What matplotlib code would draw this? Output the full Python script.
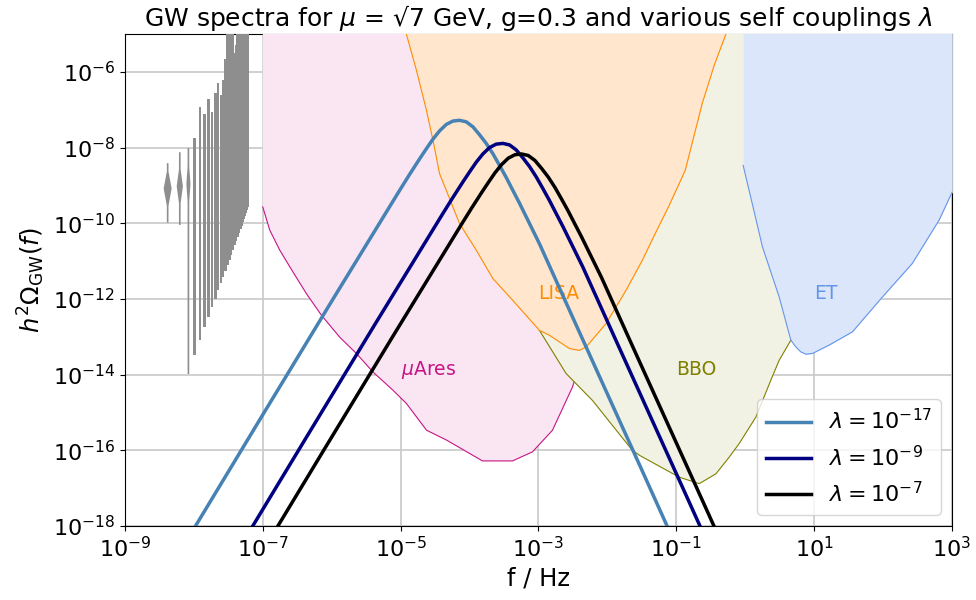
import matplotlib
matplotlib.use("Agg")
import matplotlib.pyplot as plt
import numpy as np

# GW spectra: log10 f [Hz] and log10 h^2 Omega
spec_labels = [r'$\lambda = 10^{-17}$', r'$\lambda = 10^{-9}$', r'$\lambda = 10^{-7}$']
spec_colors = ['steelblue', 'navy', 'black']

lf_l17 = [-8.2, -7.986, -7.0, -6.0, -5.3, -5.014, -4.87, -4.725, -4.628, -4.532,
          -4.435, -4.338, -4.242, -4.145, -4.048, -3.952, -3.855, -3.758, -3.662, -3.565,
          -3.468, -3.372, -3.275, -2.986, -2.5, -2.0, -1.5, -1.126, -1.0]
lo_l17 = [-18.67, -18.03, -15.06, -12.06, -9.98, -9.13, -8.71, -8.30, -8.035, -7.78,
          -7.56, -7.39, -7.30, -7.28, -7.32, -7.45, -7.66, -7.89, -8.16, -8.47,
          -8.79, -9.13, -9.47, -10.54, -12.50, -14.51, -16.52, -18.03, -18.54]

lf_l9 = [-7.572, -7.358, -6.372, -5.372, -4.672, -4.386, -4.242, -4.097, -4.0, -3.904,
         -3.807, -3.71, -3.614, -3.517, -3.42, -3.324, -3.227, -3.13, -3.034, -2.937,
         -2.84, -2.744, -2.647, -2.358, -1.872, -1.372, -0.872, -0.498, -0.372]
lo_l9 = [-19.28, -18.64, -15.67, -12.67, -10.59, -9.74, -9.32, -8.91, -8.645, -8.39,
         -8.17, -8.00, -7.91, -7.89, -7.93, -8.06, -8.27, -8.50, -8.77, -9.08,
         -9.40, -9.74, -10.08, -11.15, -13.11, -15.12, -17.13, -18.64, -19.15]

lf_l7 = [-7.3, -7.086, -6.1, -5.1, -4.4, -4.114, -3.97, -3.825, -3.728, -3.632,
         -3.535, -3.438, -3.342, -3.245, -3.148, -3.052, -2.955, -2.858, -2.762, -2.665,
         -2.568, -2.472, -2.375, -2.086, -1.6, -1.1, -0.6, -0.226, -0.1]
lo_l7 = [-19.56, -18.92, -15.95, -12.95, -10.87, -10.02, -9.60, -9.19, -8.925, -8.67,
         -8.45, -8.28, -8.19, -8.17, -8.21, -8.34, -8.55, -8.78, -9.05, -9.36,
         -9.68, -10.02, -10.36, -11.43, -13.39, -15.40, -17.41, -18.92, -19.43]

spec_lf = [lf_l17, lf_l9, lf_l7]
spec_lo = [lo_l17, lo_l9, lo_l7]

# detector sensitivity curves (log10 f, log10 h^2 Omega)
mu_lf = [-7.0, -6.899, -6.754, -6.561, -6.367, -6.149, -5.884, -5.642, -5.401, -5.112,
         -4.917, -4.623, -4.333, -3.812, -3.377, -3.087, -2.797, -2.507, -2.33, -2.12, -1.97]
mu_lo = [-9.57, -10.18, -10.71, -11.29, -11.86, -12.43, -13.01, -13.44, -13.93, -14.41,
         -14.76, -15.47, -15.73, -16.28, -16.28, -16.04, -15.47, -14.33, -13.36, -10.7, -4.9]

bbo_lf = [-3.42, -3.25, -3.06, -2.986, -2.599, -2.454, -2.217, -1.638, -1.536, -0.957,
          -0.667, -0.425, -0.232, -0.087, 0.155, 0.391, 0.493, 0.662, 0.783, 0.928, 1.22, 1.51]
bbo_lo = [-4.9, -8.07, -12.04, -12.83, -13.97, -14.24, -14.68, -16.00, -16.13, -16.71,
          -16.88, -16.62, -16.18, -15.82, -15.12, -14.06, -13.62, -13.09, -12.30, -10.72, -8.07, -4.9]

lisa_lf = [-4.95, -4.917, -4.771, -4.626, -4.530, -4.435, -4.338, -4.145, -3.903, -3.662,
           -3.372, -2.986, -2.841, -2.551, -2.406, -2.309, -2.019, -1.729, -1.493, -1.319,
           -1.101, -0.870, -0.623, -0.449, -0.275, -0.25]
lisa_lo = [-4.8, -5.0, -5.955, -7.01, -7.81, -8.69, -9.13, -10.01, -10.71, -11.46,
           -12.04, -12.83, -12.96, -13.31, -13.36, -13.27, -12.65, -11.77, -10.98, -10.32,
           -9.52, -8.60, -6.83, -5.82, -4.98, -4.85]

et_lf = [-0.03, 0.251, 0.493, 0.662, 0.735, 0.807, 0.880, 0.976, 1.217, 1.555,
         1.990, 2.425, 2.812, 3.005]
et_lo = [-8.47, -10.63, -11.95, -13.09, -13.27, -13.40, -13.46, -13.44, -13.22, -12.87,
         -11.95, -11.06, -9.92, -9.17]

# PTA violins: frequency [nHz], range and peak of log10 h^2 Omega
pta_f = [4.1, 6.15, 8.2, 10.25, 12.3, 14.35, 16.4, 18.45, 20.5, 22.55, 24.6, 26.65,
         28.7, 30.75, 32.8, 34.85, 36.9, 38.95, 41.0, 43.05, 45.1, 47.15, 49.2, 51.25,
         53.3, 55.35, 57.4, 59.45, 61.5]
pta_top = [-8.40, -8.11, -8.00, -7.76, -6.92, -7.12, -6.73, -7.06, -6.57, -6.29,
           -6.62, -6.22, -5.67, -4.8, -4.8, -4.8, -4.8, -5.5, -5.3, -4.8,
           -4.8, -4.8, -4.8, -4.8, -4.8, -4.8, -4.8, -4.8, -4.8]
pta_bot = [-9.97, -10.03, -13.97, -13.49, -13.09, -12.74, -12.48, -12.21, -11.99, -11.77,
           -11.59, -11.42, -11.26, -11.10, -10.96, -10.83, -10.70, -10.58, -10.47, -10.36,
           -10.26, -10.16, -10.06, -9.97, -9.89, -9.80, -9.72, -9.65, -9.57]
pta_peak = [-9.07, -9.01, -8.95]

fig, ax = plt.subplots(figsize=(9.76, 6.0), dpi=100)
fig.subplots_adjust(left=0.128, right=0.9754, bottom=0.1233, top=0.9433)
ax.set_xscale('log')
ax.set_yscale('log')
ax.set_xlim(1e-9, 1e3)
ax.set_ylim(1e-18, 1e-5)
ax.set_axisbelow(True)
ax.grid(True, color='#c8c8c8', lw=1.2)

# violins
for i in range(len(pta_f)):
    f0 = pta_f[i] * 1e-9
    y = np.linspace(pta_bot[i], pta_top[i], 80)
    w = np.full_like(y, 0.018)
    if i < len(pta_peak):
        wmax = [0.058, 0.045, 0.03][i]
        w = 0.012 + (wmax - 0.012) * np.clip(1 - np.abs(y - pta_peak[i]) / 0.45, 0, 1)
    ax.fill_betweenx(10**y, f0 * 10**(-w), f0 * 10**w, color='#8e8e8e', lw=0, zorder=3)

# sensitivity regions
regions = [
    (mu_lf, mu_lo, '#f9e6f2', 'mediumvioletred'),
    (bbo_lf, bbo_lo, '#f1f1e4', 'olive'),
    (lisa_lf, lisa_lo, '#ffe6cc', 'darkorange'),
    (et_lf, et_lo, '#dce6fa', 'cornflowerblue'),
]
for k, (lf, lo, fc, ec) in enumerate(regions):
    f = 10**np.array(lf)
    om = 10**np.array(lo)
    z = 3 + 0.1 * k
    ax.fill_between(f, om, 1.0, color=fc, lw=0, zorder=z)
    ax.plot(f, om, color=ec, lw=0.8, zorder=z + 0.05)

ax.text(1e-5, 1e-14, r'$\mu$Ares', color='mediumvioletred', fontsize=13.5, zorder=4)
ax.text(1e-3, 1e-12, 'LISA', color='darkorange', fontsize=13.5, zorder=4)
ax.text(1e-1, 1e-14, 'BBO', color='olive', fontsize=13.5, zorder=4)
ax.text(1e1, 1e-12, 'ET', color='cornflowerblue', fontsize=13.5, zorder=4)

for lf, lo, lab, c in zip(spec_lf, spec_lo, spec_labels, spec_colors):
    ax.plot(10**np.array(lf), 10**np.array(lo), color=c, lw=2.5, label=lab, zorder=5)

ax.set_xticks([1e-9, 1e-7, 1e-5, 1e-3, 1e-1, 1e1, 1e3])
ax.set_yticks([1e-18, 1e-16, 1e-14, 1e-12, 1e-10, 1e-8, 1e-6])
ax.minorticks_off()
ax.tick_params(labelsize=16)
ax.set_xlabel('f / Hz', fontsize=17.5)
ax.set_ylabel(r'$h^2\Omega_{\rm GW}(f)$', fontsize=17.5)
ax.set_title('GW spectra for $\\mu$ = \u221a7 GeV, g=0.3 and various self couplings $\\lambda$',
             fontsize=18)
leg = ax.legend(loc='lower right', fontsize=16)
leg.set_zorder(6)

fig.savefig('out.png', dpi=100)
